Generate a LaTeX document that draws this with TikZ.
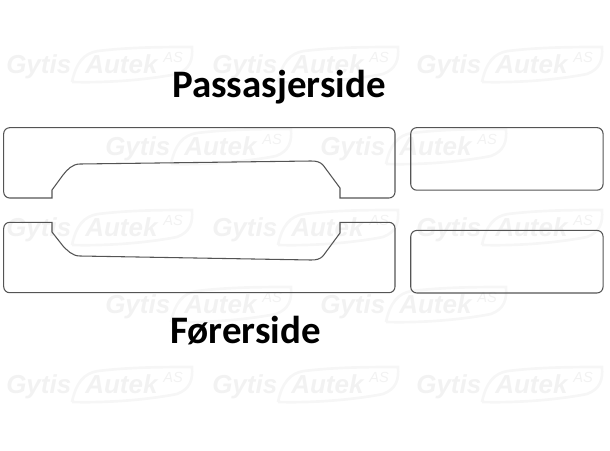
\documentclass[tikz,border=0pt]{standalone}
\usepackage{fontspec}
\setmainfont{Carlito}
\newfontfamily\markfont{Liberation Sans}
\usetikzlibrary{positioning,calc}
\definecolor{markgray}{gray}{0.95}
\definecolor{swooshgray}{gray}{0.965}
\definecolor{panelline}{gray}{0.33}
\tikzstyle{panel} = [draw=panelline, line width=0.8pt]
\tikzstyle{sidebox} = [panel, rectangle, rounded corners=4.5pt, minimum width=144.2pt, minimum height=46.9pt, inner sep=0pt]
\tikzstyle{title} = [font=\bfseries\fontsize{29.2}{34}\selectfont, inner sep=0pt]
\tikzstyle{marktext} = [text=markgray, font=\markfont\bfseries\itshape\fontsize{19.5}{22}\selectfont, inner sep=0pt]
\tikzset{
    gytismark/.pic={
        \draw[swooshgray, line width=2pt] (66,17) .. controls (70,-2) and (78,-12) .. (92,-14) .. controls (125,-18) and (160,-18) .. (186,-18) .. controls (187,-5) and (184,4) .. (171,9) .. controls (140,15) and (100,18) .. (66,17);
        \node[marktext, anchor=base west] (gytis) at (0,8) {Gytis};
        \node[marktext, anchor=base west] (autek) at (79,8) {Autek};
        \node[marktext, anchor=base west, font=\markfont\itshape\fontsize{11}{13}\selectfont] (as) at (157,-3) {AS};
    }
}

\begin{document}
\begin{tikzpicture}[x=0.75pt, y=-0.75pt]
    \useasboundingbox (0,0) rectangle (610,450);

    % watermarks
    \foreach \px/\py in {6/65, 212/65, 416/65, 105/147, 320/147, 6/228, 212/228, 416/228, 105/305, 320/305, 6/385, 212/385, 416/385}
        \pic at (\px,\py) {gytismark};

    \node[title] (passasjer) at (279,87) {Passasjerside};
    \node[title] (forer) at (245.5,331) {Førerside};

    % door panels
    \draw[panel, rounded corners=4.5pt] (200,127.7) -- (395,127.7) -- (395,198) [sharp corners] -- (340,198) -- (340,188) -- (323,165)
        .. controls (320,162) and (317,161) .. (311,161) -- (80,164) .. controls (72,164) and (67,170) .. (63,175)
        -- (52,190) -- (52,198) [rounded corners=4.5pt] -- (3.7,198) -- (3.7,127.7) -- cycle;
    \draw[panel, rounded corners=4.5pt] (200,292.7) -- (395,292.7) -- (395,222.3) [sharp corners] -- (340,222.3) -- (340,233) -- (323,256)
        .. controls (320,259) and (317,260) .. (311,260) -- (80,256) .. controls (72,256) and (67,250) .. (63,246)
        -- (52,232) -- (52,222.3) [rounded corners=4.5pt] -- (3.7,222.3) -- (3.7,292.7) -- cycle;

    % side panels
    \node[sidebox] (upperbox) at (506.9,158.9) {};
    \node[sidebox] (lowerbox) at (506.9,261.7) {};
\end{tikzpicture}
\end{document}
